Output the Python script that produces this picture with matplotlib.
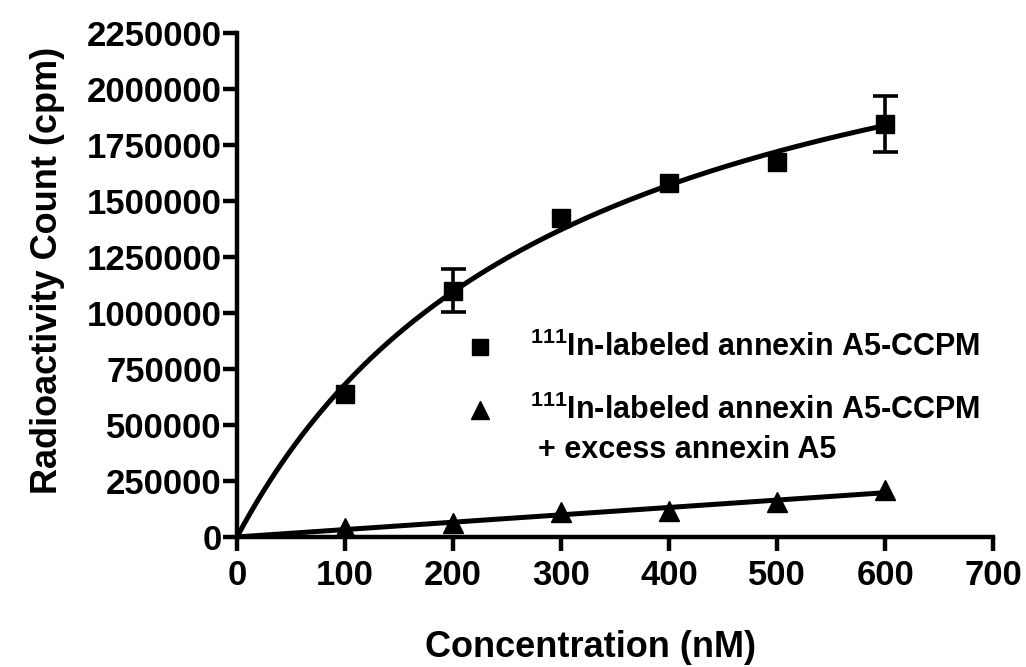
import numpy as np
import matplotlib
matplotlib.use('Agg')
import matplotlib.pyplot as plt
from matplotlib import font_manager

# data
conc = [100, 200, 300, 400, 500, 600]
binding = [640000, 1100000, 1425000, 1580000, 1675000, 1845000]
binding_err = [0, 95000, 0, 0, 0, 125000]
blocked = [40000, 62000, 112000, 115000, 155000, 210000]

x_ticks = [0, 100, 200, 300, 400, 500, 600, 700]
y_ticks = [0, 250000, 500000, 750000, 1000000, 1250000, 1500000,
           1750000, 2000000, 2250000]

names = {f.name for f in font_manager.fontManager.ttflist}
narrow = 'Liberation Sans Narrow' if 'Liberation Sans Narrow' in names else 'Liberation Sans'
plt.rcParams['font.family'] = ['Liberation Sans', 'DejaVu Sans']
plt.rcParams['mathtext.fontset'] = 'custom'
plt.rcParams['mathtext.rm'] = narrow + ':bold'
plt.rcParams['mathtext.bf'] = narrow + ':bold'

# one-site binding fit (Bmax*x/(Kd+x)) via grid search on Kd
xs = np.array(conc, dtype=float)
ys = np.array(binding, dtype=float)
best = None
for kd in np.linspace(50, 2000, 4000):
    g = xs / (kd + xs)
    bmax = (g @ ys) / (g @ g)
    sse = np.sum((ys - bmax * g) ** 2)
    if best is None or sse < best[0]:
        best = (sse, kd, bmax)
_, kd, bmax = best
slope = (xs @ np.array(blocked)) / (xs @ xs)

xfit = np.linspace(0, 600, 300)

fig = plt.figure(figsize=(10.26, 6.67), dpi=100)
ax = fig.add_axes([0.231, 0.195, 0.737, 0.7555])

ax.plot(xfit, bmax * xfit / (kd + xfit), color='black', linewidth=3.6, zorder=2)
ax.plot(xfit, slope * xfit, color='black', linewidth=3.6, zorder=2)

ax.plot(conc, binding, 's', color='black', markersize=13, zorder=3)
err = np.array(binding_err)
has_err = err > 0
ax.errorbar(xs[has_err], ys[has_err], yerr=err[has_err], fmt='none', ecolor='black',
            elinewidth=2.6, capsize=9, capthick=2.6, zorder=3)
ax.plot(conc, blocked, '^', color='black', markersize=14, zorder=3)

ax.set_xlim(0, 700)
ax.set_ylim(0, 2250000)
ax.set_xticks(x_ticks)
ax.set_yticks(y_ticks)
ax.set_xticklabels([str(t) for t in x_ticks], fontsize=25, fontweight='bold')
ax.set_yticklabels([str(t) for t in y_ticks], fontsize=25, fontweight='bold')

for side in ['top', 'right']:
    ax.spines[side].set_visible(False)
for side in ['left', 'bottom']:
    ax.spines[side].set_linewidth(3.2)
ax.tick_params(direction='out', length=10, width=3.2, pad=1)
ax.tick_params(axis='x', pad=6)

ax.set_xlabel('Concentration (nM)', fontsize=26, fontweight='bold')
ax.set_ylabel('Radioactivity Count (cpm)', fontsize=26, fontweight='bold')
ax.xaxis.set_label_coords(0.468, -0.185)
ax.yaxis.set_label_coords(-0.228, 0.528)

# hand-made legend
ax.plot([0.321], [0.377], 's', color='black', markersize=12, transform=ax.transAxes, clip_on=False)
ax.plot([0.321], [0.252], '^', color='black', markersize=13, transform=ax.transAxes, clip_on=False)
leg_kw = dict(transform=ax.transAxes, fontsize=22, family=narrow, fontweight='bold', va='center')
ax.text(0.388, 0.377, r'$^{111}$In-labeled annexin A5-CCPM', **leg_kw)
ax.text(0.388, 0.252, r'$^{111}$In-labeled annexin A5-CCPM', **leg_kw)
ax.text(0.398, 0.172, '+ excess annexin A5', **leg_kw)

fig.savefig('out.png', dpi=100)
